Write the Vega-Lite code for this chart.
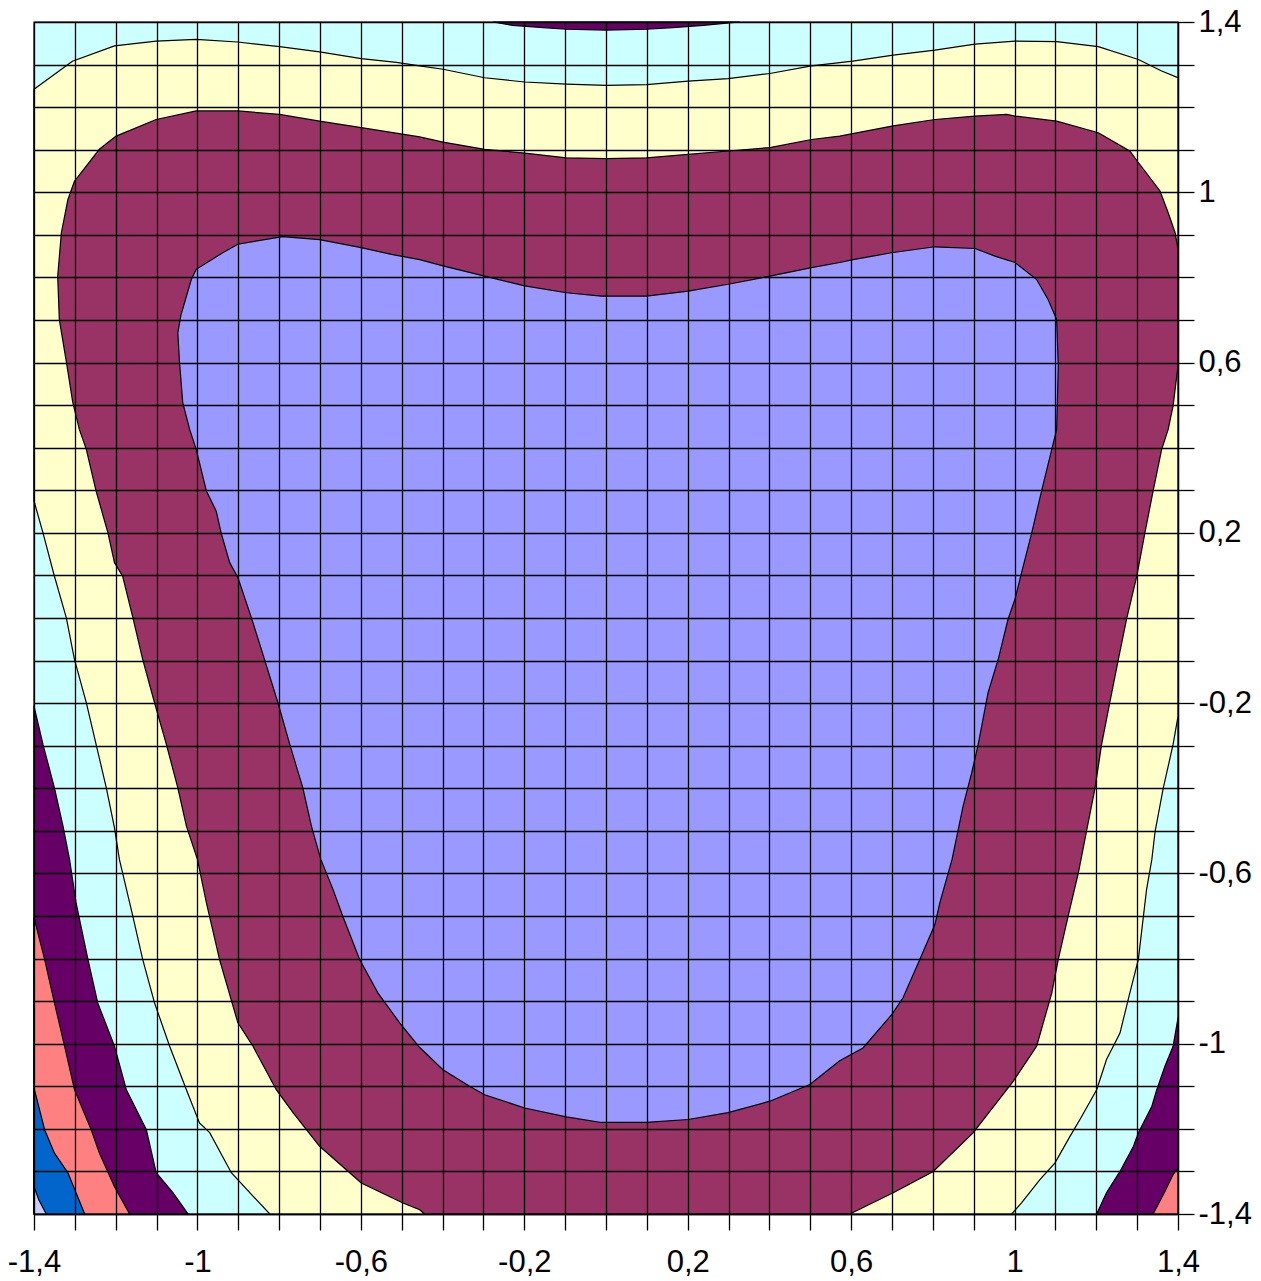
{
  "$schema": "https://vega.github.io/schema/vega-lite/v6.json",
  "width": 1144,
  "height": 1192,
  "autosize": "none",
  "padding": {"left": 34, "top": 22, "right": 83, "bottom": 67},
  "background": "white",
  "config": {"view": {"stroke": null}},
  "data": {
    "values": [
      {"r": "bg", "b": "cyan", "x": -1.4, "y": -1.4},
      {"r": "bg", "b": "cyan", "x": -1.4, "y": 1.4},
      {"r": "bg", "b": "cyan", "x": 1.4, "y": 1.4},
      {"r": "bg", "b": "cyan", "x": 1.4, "y": -1.4},
      {"r": "bg", "b": "cyan", "x": -1.4, "y": -1.4},

      {"r": "yel", "b": "yellow", "x": -1.4, "y": 1.242},
      {"r": "yel", "b": "yellow", "x": -1.306, "y": 1.308},
      {"r": "yel", "b": "yellow", "x": -1.203, "y": 1.344},
      {"r": "yel", "b": "yellow", "x": -1.101, "y": 1.355},
      {"r": "yel", "b": "yellow", "x": -1.003, "y": 1.359},
      {"r": "yel", "b": "yellow", "x": -0.902, "y": 1.353},
      {"r": "yel", "b": "yellow", "x": -0.799, "y": 1.342},
      {"r": "yel", "b": "yellow", "x": -0.701, "y": 1.33},
      {"r": "yel", "b": "yellow", "x": -0.599, "y": 1.314},
      {"r": "yel", "b": "yellow", "x": -0.513, "y": 1.305},
      {"r": "yel", "b": "yellow", "x": -0.456, "y": 1.297},
      {"r": "yel", "b": "yellow", "x": -0.399, "y": 1.289},
      {"r": "yel", "b": "yellow", "x": -0.297, "y": 1.269},
      {"r": "yel", "b": "yellow", "x": -0.199, "y": 1.259},
      {"r": "yel", "b": "yellow", "x": -0.097, "y": 1.254},
      {"r": "yel", "b": "yellow", "x": 0.001, "y": 1.251},
      {"r": "yel", "b": "yellow", "x": 0.099, "y": 1.253},
      {"r": "yel", "b": "yellow", "x": 0.201, "y": 1.261},
      {"r": "yel", "b": "yellow", "x": 0.299, "y": 1.267},
      {"r": "yel", "b": "yellow", "x": 0.401, "y": 1.279},
      {"r": "yel", "b": "yellow", "x": 0.503, "y": 1.297},
      {"r": "yel", "b": "yellow", "x": 0.604, "y": 1.308},
      {"r": "yel", "b": "yellow", "x": 0.703, "y": 1.322},
      {"r": "yel", "b": "yellow", "x": 0.805, "y": 1.334},
      {"r": "yel", "b": "yellow", "x": 0.903, "y": 1.348},
      {"r": "yel", "b": "yellow", "x": 1.001, "y": 1.355},
      {"r": "yel", "b": "yellow", "x": 1.103, "y": 1.354},
      {"r": "yel", "b": "yellow", "x": 1.205, "y": 1.342},
      {"r": "yel", "b": "yellow", "x": 1.303, "y": 1.312},
      {"r": "yel", "b": "yellow", "x": 1.36, "y": 1.285},
      {"r": "yel", "b": "yellow", "x": 1.4, "y": 1.269},
      {"r": "yel", "b": "yellow", "x": 1.4, "y": -0.231},
      {"r": "yel", "b": "yellow", "x": 1.388, "y": -0.297},
      {"r": "yel", "b": "yellow", "x": 1.364, "y": -0.399},
      {"r": "yel", "b": "yellow", "x": 1.344, "y": -0.501},
      {"r": "yel", "b": "yellow", "x": 1.336, "y": -0.567},
      {"r": "yel", "b": "yellow", "x": 1.323, "y": -0.638},
      {"r": "yel", "b": "yellow", "x": 1.303, "y": -0.802},
      {"r": "yel", "b": "yellow", "x": 1.282, "y": -0.881},
      {"r": "yel", "b": "yellow", "x": 1.258, "y": -0.975},
      {"r": "yel", "b": "yellow", "x": 1.225, "y": -1.037},
      {"r": "yel", "b": "yellow", "x": 1.201, "y": -1.108},
      {"r": "yel", "b": "yellow", "x": 1.16, "y": -1.178},
      {"r": "yel", "b": "yellow", "x": 1.136, "y": -1.217},
      {"r": "yel", "b": "yellow", "x": 1.099, "y": -1.28},
      {"r": "yel", "b": "yellow", "x": 1.062, "y": -1.319},
      {"r": "yel", "b": "yellow", "x": 1.017, "y": -1.374},
      {"r": "yel", "b": "yellow", "x": 0.993, "y": -1.4},
      {"r": "yel", "b": "yellow", "x": -0.823, "y": -1.4},
      {"r": "yel", "b": "yellow", "x": -0.864, "y": -1.358},
      {"r": "yel", "b": "yellow", "x": -0.917, "y": -1.303},
      {"r": "yel", "b": "yellow", "x": -0.97, "y": -1.209},
      {"r": "yel", "b": "yellow", "x": -0.995, "y": -1.186},
      {"r": "yel", "b": "yellow", "x": -1.027, "y": -1.108},
      {"r": "yel", "b": "yellow", "x": -1.068, "y": -1.006},
      {"r": "yel", "b": "yellow", "x": -1.105, "y": -0.904},
      {"r": "yel", "b": "yellow", "x": -1.134, "y": -0.802},
      {"r": "yel", "b": "yellow", "x": -1.158, "y": -0.701},
      {"r": "yel", "b": "yellow", "x": -1.191, "y": -0.567},
      {"r": "yel", "b": "yellow", "x": -1.203, "y": -0.493},
      {"r": "yel", "b": "yellow", "x": -1.223, "y": -0.399},
      {"r": "yel", "b": "yellow", "x": -1.248, "y": -0.297},
      {"r": "yel", "b": "yellow", "x": -1.272, "y": -0.199},
      {"r": "yel", "b": "yellow", "x": -1.301, "y": -0.097},
      {"r": "yel", "b": "yellow", "x": -1.321, "y": 0.001},
      {"r": "yel", "b": "yellow", "x": -1.35, "y": 0.098},
      {"r": "yel", "b": "yellow", "x": -1.378, "y": 0.2},
      {"r": "yel", "b": "yellow", "x": -1.4, "y": 0.275},
      {"r": "yel", "b": "yellow", "x": -1.4, "y": 1.242},

      {"r": "mar", "b": "maroon", "x": -0.444, "y": -1.4},
      {"r": "mar", "b": "maroon", "x": -0.456, "y": -1.39},
      {"r": "mar", "b": "maroon", "x": -0.497, "y": -1.374},
      {"r": "mar", "b": "maroon", "x": -0.599, "y": -1.327},
      {"r": "mar", "b": "maroon", "x": -0.701, "y": -1.241},
      {"r": "mar", "b": "maroon", "x": -0.766, "y": -1.162},
      {"r": "mar", "b": "maroon", "x": -0.807, "y": -1.108},
      {"r": "mar", "b": "maroon", "x": -0.864, "y": -1.006},
      {"r": "mar", "b": "maroon", "x": -0.901, "y": -0.951},
      {"r": "mar", "b": "maroon", "x": -0.946, "y": -0.802},
      {"r": "mar", "b": "maroon", "x": -0.978, "y": -0.669},
      {"r": "mar", "b": "maroon", "x": -1.0, "y": -0.567},
      {"r": "mar", "b": "maroon", "x": -1.027, "y": -0.489},
      {"r": "mar", "b": "maroon", "x": -1.048, "y": -0.399},
      {"r": "mar", "b": "maroon", "x": -1.076, "y": -0.297},
      {"r": "mar", "b": "maroon", "x": -1.105, "y": -0.199},
      {"r": "mar", "b": "maroon", "x": -1.134, "y": -0.097},
      {"r": "mar", "b": "maroon", "x": -1.158, "y": 0.001},
      {"r": "mar", "b": "maroon", "x": -1.183, "y": 0.098},
      {"r": "mar", "b": "maroon", "x": -1.203, "y": 0.13},
      {"r": "mar", "b": "maroon", "x": -1.219, "y": 0.2},
      {"r": "mar", "b": "maroon", "x": -1.248, "y": 0.298},
      {"r": "mar", "b": "maroon", "x": -1.272, "y": 0.396},
      {"r": "mar", "b": "maroon", "x": -1.289, "y": 0.443},
      {"r": "mar", "b": "maroon", "x": -1.305, "y": 0.506},
      {"r": "mar", "b": "maroon", "x": -1.321, "y": 0.603},
      {"r": "mar", "b": "maroon", "x": -1.338, "y": 0.701},
      {"r": "mar", "b": "maroon", "x": -1.342, "y": 0.803},
      {"r": "mar", "b": "maroon", "x": -1.333, "y": 0.905},
      {"r": "mar", "b": "maroon", "x": -1.317, "y": 0.983},
      {"r": "mar", "b": "maroon", "x": -1.301, "y": 1.026},
      {"r": "mar", "b": "maroon", "x": -1.24, "y": 1.101},
      {"r": "mar", "b": "maroon", "x": -1.199, "y": 1.132},
      {"r": "mar", "b": "maroon", "x": -1.101, "y": 1.171},
      {"r": "mar", "b": "maroon", "x": -1.003, "y": 1.191},
      {"r": "mar", "b": "maroon", "x": -0.901, "y": 1.191},
      {"r": "mar", "b": "maroon", "x": -0.799, "y": 1.183},
      {"r": "mar", "b": "maroon", "x": -0.701, "y": 1.167},
      {"r": "mar", "b": "maroon", "x": -0.599, "y": 1.152},
      {"r": "mar", "b": "maroon", "x": -0.456, "y": 1.13},
      {"r": "mar", "b": "maroon", "x": -0.399, "y": 1.118},
      {"r": "mar", "b": "maroon", "x": -0.297, "y": 1.101},
      {"r": "mar", "b": "maroon", "x": -0.199, "y": 1.092},
      {"r": "mar", "b": "maroon", "x": -0.097, "y": 1.081},
      {"r": "mar", "b": "maroon", "x": 0.001, "y": 1.079},
      {"r": "mar", "b": "maroon", "x": 0.099, "y": 1.081},
      {"r": "mar", "b": "maroon", "x": 0.201, "y": 1.089},
      {"r": "mar", "b": "maroon", "x": 0.299, "y": 1.097},
      {"r": "mar", "b": "maroon", "x": 0.401, "y": 1.105},
      {"r": "mar", "b": "maroon", "x": 0.503, "y": 1.124},
      {"r": "mar", "b": "maroon", "x": 0.572, "y": 1.132},
      {"r": "mar", "b": "maroon", "x": 0.703, "y": 1.156},
      {"r": "mar", "b": "maroon", "x": 0.805, "y": 1.171},
      {"r": "mar", "b": "maroon", "x": 0.903, "y": 1.179},
      {"r": "mar", "b": "maroon", "x": 0.981, "y": 1.183},
      {"r": "mar", "b": "maroon", "x": 1.001, "y": 1.179},
      {"r": "mar", "b": "maroon", "x": 1.103, "y": 1.167},
      {"r": "mar", "b": "maroon", "x": 1.205, "y": 1.14},
      {"r": "mar", "b": "maroon", "x": 1.282, "y": 1.097},
      {"r": "mar", "b": "maroon", "x": 1.303, "y": 1.07},
      {"r": "mar", "b": "maroon", "x": 1.356, "y": 1.003},
      {"r": "mar", "b": "maroon", "x": 1.376, "y": 0.952},
      {"r": "mar", "b": "maroon", "x": 1.393, "y": 0.905},
      {"r": "mar", "b": "maroon", "x": 1.4, "y": 0.866},
      {"r": "mar", "b": "maroon", "x": 1.4, "y": 0.592},
      {"r": "mar", "b": "maroon", "x": 1.388, "y": 0.498},
      {"r": "mar", "b": "maroon", "x": 1.376, "y": 0.443},
      {"r": "mar", "b": "maroon", "x": 1.36, "y": 0.396},
      {"r": "mar", "b": "maroon", "x": 1.339, "y": 0.298},
      {"r": "mar", "b": "maroon", "x": 1.319, "y": 0.2},
      {"r": "mar", "b": "maroon", "x": 1.299, "y": 0.098},
      {"r": "mar", "b": "maroon", "x": 1.274, "y": -0.003},
      {"r": "mar", "b": "maroon", "x": 1.254, "y": -0.097},
      {"r": "mar", "b": "maroon", "x": 1.233, "y": -0.199},
      {"r": "mar", "b": "maroon", "x": 1.213, "y": -0.297},
      {"r": "mar", "b": "maroon", "x": 1.197, "y": -0.399},
      {"r": "mar", "b": "maroon", "x": 1.176, "y": -0.501},
      {"r": "mar", "b": "maroon", "x": 1.156, "y": -0.599},
      {"r": "mar", "b": "maroon", "x": 1.131, "y": -0.701},
      {"r": "mar", "b": "maroon", "x": 1.107, "y": -0.802},
      {"r": "mar", "b": "maroon", "x": 1.091, "y": -0.881},
      {"r": "mar", "b": "maroon", "x": 1.054, "y": -1.006},
      {"r": "mar", "b": "maroon", "x": 0.997, "y": -1.088},
      {"r": "mar", "b": "maroon", "x": 0.899, "y": -1.209},
      {"r": "mar", "b": "maroon", "x": 0.801, "y": -1.3},
      {"r": "mar", "b": "maroon", "x": 0.703, "y": -1.35},
      {"r": "mar", "b": "maroon", "x": 0.597, "y": -1.4},
      {"r": "mar", "b": "maroon", "x": -0.444, "y": -1.4},

      {"r": "per", "b": "peri", "x": -0.791, "y": 0.896},
      {"r": "per", "b": "peri", "x": -0.701, "y": 0.889},
      {"r": "per", "b": "peri", "x": -0.599, "y": 0.87},
      {"r": "per", "b": "peri", "x": -0.525, "y": 0.854},
      {"r": "per", "b": "peri", "x": -0.456, "y": 0.842},
      {"r": "per", "b": "peri", "x": -0.399, "y": 0.827},
      {"r": "per", "b": "peri", "x": -0.297, "y": 0.803},
      {"r": "per", "b": "peri", "x": -0.199, "y": 0.78},
      {"r": "per", "b": "peri", "x": -0.097, "y": 0.764},
      {"r": "per", "b": "peri", "x": -0.011, "y": 0.756},
      {"r": "per", "b": "peri", "x": 0.099, "y": 0.756},
      {"r": "per", "b": "peri", "x": 0.201, "y": 0.768},
      {"r": "per", "b": "peri", "x": 0.299, "y": 0.784},
      {"r": "per", "b": "peri", "x": 0.401, "y": 0.803},
      {"r": "per", "b": "peri", "x": 0.503, "y": 0.823},
      {"r": "per", "b": "peri", "x": 0.572, "y": 0.835},
      {"r": "per", "b": "peri", "x": 0.605, "y": 0.842},
      {"r": "per", "b": "peri", "x": 0.699, "y": 0.858},
      {"r": "per", "b": "peri", "x": 0.805, "y": 0.872},
      {"r": "per", "b": "peri", "x": 0.903, "y": 0.868},
      {"r": "per", "b": "peri", "x": 0.952, "y": 0.85},
      {"r": "per", "b": "peri", "x": 1.001, "y": 0.835},
      {"r": "per", "b": "peri", "x": 1.054, "y": 0.795},
      {"r": "per", "b": "peri", "x": 1.082, "y": 0.748},
      {"r": "per", "b": "peri", "x": 1.103, "y": 0.701},
      {"r": "per", "b": "peri", "x": 1.107, "y": 0.592},
      {"r": "per", "b": "peri", "x": 1.103, "y": 0.443},
      {"r": "per", "b": "peri", "x": 1.091, "y": 0.396},
      {"r": "per", "b": "peri", "x": 1.066, "y": 0.298},
      {"r": "per", "b": "peri", "x": 1.042, "y": 0.2},
      {"r": "per", "b": "peri", "x": 1.017, "y": 0.106},
      {"r": "per", "b": "peri", "x": 1.001, "y": 0.044},
      {"r": "per", "b": "peri", "x": 0.984, "y": -0.003},
      {"r": "per", "b": "peri", "x": 0.96, "y": -0.097},
      {"r": "per", "b": "peri", "x": 0.935, "y": -0.176},
      {"r": "per", "b": "peri", "x": 0.911, "y": -0.297},
      {"r": "per", "b": "peri", "x": 0.895, "y": -0.364},
      {"r": "per", "b": "peri", "x": 0.874, "y": -0.442},
      {"r": "per", "b": "peri", "x": 0.847, "y": -0.567},
      {"r": "per", "b": "peri", "x": 0.817, "y": -0.669},
      {"r": "per", "b": "peri", "x": 0.805, "y": -0.72},
      {"r": "per", "b": "peri", "x": 0.768, "y": -0.802},
      {"r": "per", "b": "peri", "x": 0.727, "y": -0.892},
      {"r": "per", "b": "peri", "x": 0.699, "y": -0.932},
      {"r": "per", "b": "peri", "x": 0.629, "y": -1.01},
      {"r": "per", "b": "peri", "x": 0.572, "y": -1.04},
      {"r": "per", "b": "peri", "x": 0.499, "y": -1.096},
      {"r": "per", "b": "peri", "x": 0.401, "y": -1.135},
      {"r": "per", "b": "peri", "x": 0.299, "y": -1.162},
      {"r": "per", "b": "peri", "x": 0.201, "y": -1.178},
      {"r": "per", "b": "peri", "x": 0.099, "y": -1.185},
      {"r": "per", "b": "peri", "x": -0.011, "y": -1.185},
      {"r": "per", "b": "peri", "x": -0.097, "y": -1.172},
      {"r": "per", "b": "peri", "x": -0.199, "y": -1.151},
      {"r": "per", "b": "peri", "x": -0.297, "y": -1.12},
      {"r": "per", "b": "peri", "x": -0.334, "y": -1.1},
      {"r": "per", "b": "peri", "x": -0.399, "y": -1.061},
      {"r": "per", "b": "peri", "x": -0.456, "y": -1.009},
      {"r": "per", "b": "peri", "x": -0.505, "y": -0.951},
      {"r": "per", "b": "peri", "x": -0.558, "y": -0.881},
      {"r": "per", "b": "peri", "x": -0.603, "y": -0.802},
      {"r": "per", "b": "peri", "x": -0.644, "y": -0.701},
      {"r": "per", "b": "peri", "x": -0.668, "y": -0.638},
      {"r": "per", "b": "peri", "x": -0.698, "y": -0.567},
      {"r": "per", "b": "peri", "x": -0.721, "y": -0.489},
      {"r": "per", "b": "peri", "x": -0.742, "y": -0.399},
      {"r": "per", "b": "peri", "x": -0.774, "y": -0.297},
      {"r": "per", "b": "peri", "x": -0.803, "y": -0.199},
      {"r": "per", "b": "peri", "x": -0.836, "y": -0.097},
      {"r": "per", "b": "peri", "x": -0.868, "y": 0.001},
      {"r": "per", "b": "peri", "x": -0.901, "y": 0.095},
      {"r": "per", "b": "peri", "x": -0.921, "y": 0.13},
      {"r": "per", "b": "peri", "x": -0.942, "y": 0.2},
      {"r": "per", "b": "peri", "x": -0.954, "y": 0.251},
      {"r": "per", "b": "peri", "x": -0.978, "y": 0.298},
      {"r": "per", "b": "peri", "x": -1.003, "y": 0.396},
      {"r": "per", "b": "peri", "x": -1.019, "y": 0.443},
      {"r": "per", "b": "peri", "x": -1.036, "y": 0.506},
      {"r": "per", "b": "peri", "x": -1.044, "y": 0.603},
      {"r": "per", "b": "peri", "x": -1.048, "y": 0.67},
      {"r": "per", "b": "peri", "x": -1.04, "y": 0.713},
      {"r": "per", "b": "peri", "x": -1.015, "y": 0.795},
      {"r": "per", "b": "peri", "x": -1.003, "y": 0.819},
      {"r": "per", "b": "peri", "x": -0.938, "y": 0.858},
      {"r": "per", "b": "peri", "x": -0.901, "y": 0.878},
      {"r": "per", "b": "peri", "x": -0.791, "y": 0.896},

      {"r": "pTop", "b": "purple", "x": -0.277, "y": 1.4},
      {"r": "pTop", "b": "purple", "x": -0.228, "y": 1.392},
      {"r": "pTop", "b": "purple", "x": -0.154, "y": 1.387},
      {"r": "pTop", "b": "purple", "x": -0.097, "y": 1.383},
      {"r": "pTop", "b": "purple", "x": 0.001, "y": 1.381},
      {"r": "pTop", "b": "purple", "x": 0.099, "y": 1.383},
      {"r": "pTop", "b": "purple", "x": 0.164, "y": 1.387},
      {"r": "pTop", "b": "purple", "x": 0.238, "y": 1.392},
      {"r": "pTop", "b": "purple", "x": 0.327, "y": 1.4},
      {"r": "pTop", "b": "purple", "x": -0.277, "y": 1.4},

      {"r": "pLL", "b": "purple", "x": -1.4, "y": -0.207},
      {"r": "pLL", "b": "purple", "x": -1.378, "y": -0.297},
      {"r": "pLL", "b": "purple", "x": -1.35, "y": -0.399},
      {"r": "pLL", "b": "purple", "x": -1.329, "y": -0.489},
      {"r": "pLL", "b": "purple", "x": -1.313, "y": -0.567},
      {"r": "pLL", "b": "purple", "x": -1.297, "y": -0.669},
      {"r": "pLL", "b": "purple", "x": -1.268, "y": -0.802},
      {"r": "pLL", "b": "purple", "x": -1.244, "y": -0.904},
      {"r": "pLL", "b": "purple", "x": -1.203, "y": -1.006},
      {"r": "pLL", "b": "purple", "x": -1.174, "y": -1.108},
      {"r": "pLL", "b": "purple", "x": -1.125, "y": -1.202},
      {"r": "pLL", "b": "purple", "x": -1.101, "y": -1.303},
      {"r": "pLL", "b": "purple", "x": -1.06, "y": -1.35},
      {"r": "pLL", "b": "purple", "x": -1.023, "y": -1.4},
      {"r": "pLL", "b": "purple", "x": -1.4, "y": -1.4},
      {"r": "pLL", "b": "purple", "x": -1.4, "y": -0.207},

      {"r": "pLR", "b": "purple", "x": 1.4, "y": -0.939},
      {"r": "pLR", "b": "purple", "x": 1.388, "y": -1.006},
      {"r": "pLR", "b": "purple", "x": 1.368, "y": -1.053},
      {"r": "pLR", "b": "purple", "x": 1.348, "y": -1.108},
      {"r": "pLR", "b": "purple", "x": 1.336, "y": -1.147},
      {"r": "pLR", "b": "purple", "x": 1.303, "y": -1.209},
      {"r": "pLR", "b": "purple", "x": 1.291, "y": -1.241},
      {"r": "pLR", "b": "purple", "x": 1.258, "y": -1.3},
      {"r": "pLR", "b": "purple", "x": 1.225, "y": -1.35},
      {"r": "pLR", "b": "purple", "x": 1.201, "y": -1.4},
      {"r": "pLR", "b": "purple", "x": 1.4, "y": -1.4},
      {"r": "pLR", "b": "purple", "x": 1.4, "y": -0.939},

      {"r": "sLL", "b": "salmon", "x": -1.4, "y": -0.704},
      {"r": "sLL", "b": "salmon", "x": -1.374, "y": -0.802},
      {"r": "sLL", "b": "salmon", "x": -1.35, "y": -0.904},
      {"r": "sLL", "b": "salmon", "x": -1.325, "y": -1.006},
      {"r": "sLL", "b": "salmon", "x": -1.301, "y": -1.108},
      {"r": "sLL", "b": "salmon", "x": -1.26, "y": -1.202},
      {"r": "sLL", "b": "salmon", "x": -1.24, "y": -1.257},
      {"r": "sLL", "b": "salmon", "x": -1.203, "y": -1.336},
      {"r": "sLL", "b": "salmon", "x": -1.166, "y": -1.4},
      {"r": "sLL", "b": "salmon", "x": -1.4, "y": -1.4},
      {"r": "sLL", "b": "salmon", "x": -1.4, "y": -0.704},

      {"r": "sLR", "b": "salmon", "x": 1.4, "y": -1.292},
      {"r": "sLR", "b": "salmon", "x": 1.388, "y": -1.307},
      {"r": "sLR", "b": "salmon", "x": 1.368, "y": -1.347},
      {"r": "sLR", "b": "salmon", "x": 1.339, "y": -1.4},
      {"r": "sLR", "b": "salmon", "x": 1.4, "y": -1.4},
      {"r": "sLR", "b": "salmon", "x": 1.4, "y": -1.292},

      {"r": "bLL", "b": "blue", "x": -1.4, "y": -1.104},
      {"r": "bLL", "b": "blue", "x": -1.374, "y": -1.202},
      {"r": "bLL", "b": "blue", "x": -1.35, "y": -1.257},
      {"r": "bLL", "b": "blue", "x": -1.317, "y": -1.303},
      {"r": "bLL", "b": "blue", "x": -1.276, "y": -1.4},
      {"r": "bLL", "b": "blue", "x": -1.4, "y": -1.4},
      {"r": "bLL", "b": "blue", "x": -1.4, "y": -1.104},

      {"r": "lLL", "b": "lavender", "x": -1.4, "y": -1.336},
      {"r": "lLL", "b": "lavender", "x": -1.388, "y": -1.367},
      {"r": "lLL", "b": "lavender", "x": -1.37, "y": -1.4},
      {"r": "lLL", "b": "lavender", "x": -1.4, "y": -1.4},
      {"r": "lLL", "b": "lavender", "x": -1.4, "y": -1.336}
    ]
  },
  "encoding": {
    "x": {
      "field": "x",
      "type": "quantitative",
      "scale": {"domain": [-1.4, 1.4], "nice": false, "zero": false},
      "axis": {
        "orient": "bottom",
        "title": null,
        "values": [-1.4, -1.3, -1.2, -1.1, -1, -0.9, -0.8, -0.7, -0.6, -0.5, -0.4, -0.3, -0.2, -0.1, 0, 0.1, 0.2, 0.3, 0.4, 0.5, 0.6, 0.7, 0.8, 0.9, 1, 1.1, 1.2, 1.3, 1.4],
        "labelExpr": "indexof([-1.4, -1, -0.6, -0.2, 0.2, 0.6, 1, 1.4], datum.value) >= 0 ? replace('' + datum.value, '.', ',') : ''",
        "grid": true,
        "gridColor": "black",
        "gridOpacity": 1,
        "gridWidth": 1.3,
        "domain": true,
        "domainColor": "black",
        "domainWidth": 1.3,
        "tickColor": "black",
        "tickSize": 16,
        "tickWidth": 1.3,
        "labelFont": "Liberation Sans",
        "labelFontSize": 31,
        "labelColor": "black",
        "labelPadding": 17,
        "labelOverlap": false,
        "labelFlush": false,
        "zindex": 1
      }
    },
    "y": {
      "field": "y",
      "type": "quantitative",
      "scale": {"domain": [-1.4, 1.4], "nice": false, "zero": false},
      "axis": {
        "orient": "right",
        "title": null,
        "values": [-1.4, -1.3, -1.2, -1.1, -1, -0.9, -0.8, -0.7, -0.6, -0.5, -0.4, -0.3, -0.2, -0.1, 0, 0.1, 0.2, 0.3, 0.4, 0.5, 0.6, 0.7, 0.8, 0.9, 1, 1.1, 1.2, 1.3, 1.4],
        "labelExpr": "indexof([-1.4, -1, -0.6, -0.2, 0.2, 0.6, 1, 1.4], datum.value) >= 0 ? replace('' + datum.value, '.', ',') : ''",
        "grid": true,
        "gridColor": "black",
        "gridOpacity": 1,
        "gridWidth": 1.3,
        "domain": true,
        "domainColor": "black",
        "domainWidth": 1.3,
        "tickColor": "black",
        "tickSize": 16,
        "tickWidth": 1.3,
        "labelFont": "Liberation Sans",
        "labelFontSize": 31,
        "labelColor": "black",
        "labelPadding": 4,
        "labelOverlap": false,
        "labelFlush": false,
        "zindex": 1
      }
    },
    "detail": {"field": "r"},
    "order": {"value": null}
  },
  "layer": [
    {"transform": [{"filter": "datum.b === 'cyan'"}], "mark": {"type": "line", "fill": "#CCFFFF", "stroke": "black", "strokeWidth": 1.2}},
    {"transform": [{"filter": "datum.b === 'yellow'"}], "mark": {"type": "line", "fill": "#FFFFCC", "stroke": "black", "strokeWidth": 1.2}},
    {"transform": [{"filter": "datum.b === 'maroon'"}], "mark": {"type": "line", "fill": "#993366", "stroke": "black", "strokeWidth": 1.2}},
    {"transform": [{"filter": "datum.b === 'peri'"}], "mark": {"type": "line", "fill": "#9999FF", "stroke": "black", "strokeWidth": 1.2}},
    {"transform": [{"filter": "datum.b === 'purple'"}], "mark": {"type": "line", "fill": "#660066", "stroke": "black", "strokeWidth": 1.2}},
    {"transform": [{"filter": "datum.b === 'salmon'"}], "mark": {"type": "line", "fill": "#FF8080", "stroke": "black", "strokeWidth": 1.2}},
    {"transform": [{"filter": "datum.b === 'blue'"}], "mark": {"type": "line", "fill": "#0066CC", "stroke": "black", "strokeWidth": 1.2}},
    {"transform": [{"filter": "datum.b === 'lavender'"}], "mark": {"type": "line", "fill": "#CCCCFF", "stroke": "black", "strokeWidth": 1.2}}
  ]
}
